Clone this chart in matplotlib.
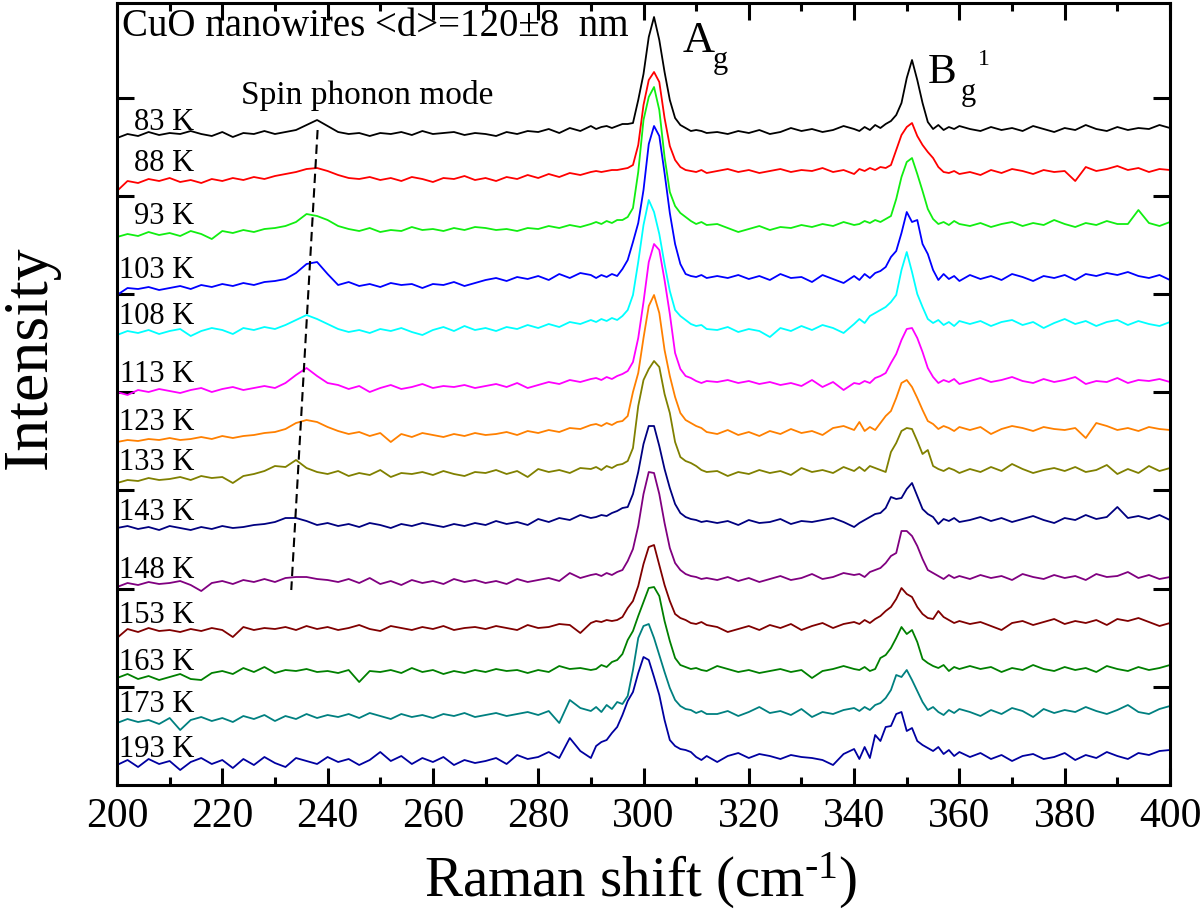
import matplotlib
matplotlib.use('Agg')
import matplotlib.pyplot as plt
import numpy as np
from matplotlib.ticker import MultipleLocator

plt.rcParams['font.family'] = ['Liberation Serif', 'DejaVu Serif']
plt.rcParams['mathtext.fontset'] = 'custom'
plt.rcParams['mathtext.rm'] = 'Liberation Serif'
plt.rcParams['mathtext.it'] = 'Liberation Serif:italic'

# ---------------- data ----------------
raman_shift = (list(range(200, 291, 2)) + list(range(291, 313)) + list(range(314, 341, 2))
               + list(range(341, 361)) + list(range(362, 401, 2)))

temperatures = ['83 K', '88 K', '93 K', '103 K', '108 K', '113 K', '123 K',
                '133 K', '143 K', '148 K', '153 K', '163 K', '173 K', '193 K']

# vertical stacking offsets of each spectrum (same units as intensities)
offsets = [657, 616, 563, 509, 463, 405, 357, 317, 267, 209, 164, 117, 75, 30]

i_83 = ([-10, -6, -8, -4, -7, -5, -6, -3, -6, -8, -4, -9, -5, -6, -3, -6, -4, -2, 3, 8,
         2, -4, -6, -5, -8, -5, -6, -4, -7, -3, -6, -5, -4, -7, -5, -6, -8, -4, -6, -3,
         -4, -1, -5, 0, -3, 2]
        + [-1, 1, 2, 0, 2, 4, 4, 5, 28, 54, 91, 111, 88, 56, 28, 10, 3, 0, -3, -2, -3, -5]
        + [-4, -6, -3, -5, -2, -6, -4, 0, -3, -1, -4, -2, 2, -1]
        + [-3, 1, -2, 3, 0, 4, 7, 13, 25, 50, 68, 48, 25, 6, -1, 3, -2, 1, -1, 2]
        + [-1, -3, 1, -2, 0, -3, 2, -1, -4, 0, -2, 3, -1, -3, 1, -2, 0, -1, 3, 0])
i_88 = ([-22, -12, -14, -10, -12, -9, -13, -11, -14, -10, -12, -9, -11, -8, -10, -7, -5, -3, 0, 1,
         -2, -6, -9, -10, -8, -11, -9, -12, -8, -10, -13, -9, -10, -7, -11, -9, -12, -8, -10, -6,
         -9, -5, -8, -4, -6, -3]
        + [-2, -3, -2, -1, -1, 0, 1, 4, 24, 64, 89, 97, 87, 51, 23, 9, 2, -1, -2, -3, -1, -4]
        + [-2, 0, -3, -1, -4, -2, 0, -3, -1, -2, 1, -3, -1, -5]
        + [0, -2, 1, -1, 2, 1, 4, 19, 34, 42, 46, 33, 24, 17, 11, 2, -3, -4, -2, -5]
        + [-3, -6, -1, -4, 0, -2, -5, -1, -3, -2, -12, 2, -2, 0, 3, -1, 1, -3, 0, -1])
i_93 = ([-15, -12, -14, -10, -13, -11, -14, -9, -12, -17, -9, -11, -8, -10, -7, -6, -4, 0, 8, 6,
         2, -4, -7, -9, -6, -10, -8, -9, -5, -8, -7, -9, -6, -8, -5, -6, -8, -7, -9, -6,
         -7, -4, -6, -3, -5, -2]
        + [0, -2, 1, -1, 2, 2, 5, 14, 50, 102, 125, 135, 112, 65, 30, 16, 9, 5, 1, -2, 0, -3]
        + [-2, -6, -10, -7, -4, -8, -5, -6, -3, -5, -2, -4, 0, -3]
        + [-2, 1, -1, 2, 0, 3, 6, 23, 45, 60, 64, 48, 31, 13, 3, -2, 0, -3, 1, -2]
        + [-4, -1, -5, -2, 0, -4, -1, -3, 2, -2, -5, -1, -3, 1, -2, -2, 12, -1, -4, 0])
i_103 = ([-19, -12, -13, -11, -14, -12, -10, -13, -9, -11, -8, -10, -7, -9, -6, -5, -3, 3, 12, 14,
          2, -9, -6, -10, -8, -11, -7, -9, -8, -12, -8, -9, -6, -10, -7, -4, -2, -5, -1, -3,
          0, -4, 2, -2, 3, 1]
         + [-2, 1, -1, 2, 0, 7, 16, 34, 53, 86, 132, 150, 140, 103, 63, 32, 12, 2, 0, -1, 1, -2]
         + [0, -2, 1, -3, 0, -4, 2, -2, -1, -6, 1, -3, -7, 0]
         + [-4, 2, -2, 3, 5, 9, 19, 25, 43, 64, 54, 56, 32, 22, 6, -4, 2, -3, 0, -5]
         + [1, -3, 0, -4, 2, -1, -5, 0, -2, 1, -4, 2, 0, 3, 1, 4, 0, -2, 1, -4])
i_108 = ([-13, -9, -11, -8, -12, -9, -7, -14, -9, -6, -8, -12, -6, -8, -5, -7, -3, 2, 7, 3,
          -2, -7, -10, -8, -11, -7, -9, -6, -10, -13, -8, -5, -9, -4, -8, -6, -9, -5, -7, -3,
          -6, -2, -5, 0, -2, 2]
         + [0, 3, 1, 4, 2, 6, 12, 27, 60, 97, 122, 110, 88, 58, 31, 12, 6, 2, -2, -4, -3, -7]
         + [-8, -5, -10, -7, -9, -15, -6, -9, -4, -8, -3, -6, -11, -2]
         + [3, -1, 6, 9, 12, 15, 20, 27, 52, 70, 50, 28, 15, 3, -1, 2, -3, 0, -4, 1]
         + [-2, 1, -4, 0, 2, -3, 0, -6, -1, 3, -2, 1, -4, 0, 2, -3, 1, -2, -4, 0])
i_113 = ([-12, -15, -10, -12, -9, -11, -13, -10, -8, -12, -9, -7, -10, -8, -6, -8, -3, 5, 12, 4,
          -3, -5, -9, -6, -12, -8, -5, -9, -7, -4, -8, -6, -7, -5, -8, -6, -4, -7, -3, -8,
          -5, -2, -4, 0, -2, 1]
         + [2, 0, 3, 1, 4, 6, 9, 18, 42, 78, 118, 136, 130, 100, 66, 27, 11, 4, 2, -1, -3, -1]
         + [-2, 0, -3, -1, -4, -2, -5, -3, -6, 0, -7, -2, -10, -3]
         + [-4, -1, -3, 2, 4, 7, 17, 26, 40, 51, 52, 42, 28, 12, 3, -3, 0, -2, 1, -4]
         + [-1, 2, -2, 0, 3, -1, -3, 1, -2, 0, 3, -4, -1, -2, 2, -3, 0, -1, 1, -2])
i_123 = ([-14, -12, -13, -11, -12, -10, -12, -11, -9, -11, -8, -10, -8, -7, -5, -4, -1, 5, 8, 6,
          1, -3, -6, -4, -8, -5, -14, -6, -9, -5, -7, -9, -6, -8, -5, -7, -6, -4, -7, -3,
          -5, -2, -4, 0, -1, 3]
         + [4, 2, 5, 3, 6, 7, 12, 36, 55, 90, 122, 133, 115, 78, 52, 31, 15, 8, 5, 2, 0, -4]
         + [-6, -2, -7, -4, -8, -3, -6, -1, -5, -3, -7, 0, 2, -2]
         + [6, -3, 1, -2, 5, 12, 17, 30, 45, 48, 41, 30, 18, 7, 4, -1, 2, 0, -3, 1]
         + [-2, 1, -6, -1, 2, 0, -3, 1, -1, -2, 0, -10, 5, 2, -2, 0, -3, 1, -1, -2])
i_133 = ([-15, -12, -13, -10, -12, -11, -9, -12, -8, -10, -9, -15, -8, -6, -3, 2, 1, 8, 0, -4,
          -6, -3, -8, -5, -7, -2, -9, -5, -6, -4, -7, -3, -6, -8, -4, -5, -2, -6, -3, -9,
          -1, -4, -2, -5, 0, -1]
         + [1, -2, 2, 0, 3, 4, 7, 20, 62, 88, 99, 107, 101, 74, 55, 26, 11, 7, 5, 2, -2, -4]
         + [-3, -8, -4, -6, -2, -5, -3, -7, 0, -4, -2, -5, 1, -3]
         + [1, -3, 2, 0, -2, -4, 16, 25, 37, 40, 39, 27, 14, 18, 2, -1, -3, 0, -2, -5]
         + [-1, -4, 1, -3, 4, -1, -5, -2, 0, -3, 1, -4, -2, 3, -6, -1, -5, 2, -3, 0])
i_143 = ([-10, -8, -11, -9, -12, -8, -10, -12, -9, -11, -8, -10, -9, -7, -6, -4, 0, 0, -3, -7,
          -5, -8, -6, -9, -5, -7, -10, -6, -8, -5, -7, -9, -6, -8, -5, -7, -3, -6, -4, -7,
          -1, -4, 0, -2, 3, 0]
         + [1, 3, 2, 5, 7, 10, 11, 24, 46, 74, 92, 92, 72, 49, 30, 14, 5, 1, -1, -2, -4, -3]
         + [-5, -3, -7, -2, -5, -4, -1, -6, -3, -4, -2, 0, -4, -9]
         + [-5, -2, 1, 4, 5, 10, 21, 19, 20, 29, 35, 22, 9, 4, 1, -6, -1, -3, 0, -4]
         + [-2, 1, -3, 0, -4, -1, 2, -2, -5, 0, -2, 3, -1, 1, 11, 0, 2, -1, 3, -2])
i_148 = ([-11, -7, -9, -6, -8, -7, -5, -9, -15, -7, -5, -8, -4, -6, -3, -6, -2, -1, -1, -3,
          -4, -6, -3, -7, -2, -8, -5, -9, -4, -7, -5, -8, -3, -6, -4, -7, -5, -8, -3, -6,
          -4, -2, -5, 3, -2, 1]
         + [2, 0, 3, 1, 4, 6, 15, 27, 50, 82, 104, 103, 82, 53, 28, 13, 6, 2, 0, -1, -3, -2]
         + [-4, -1, -5, -2, -6, -3, 0, -4, -2, 2, -3, -1, 3, 1]
         + [2, -1, 4, 6, 8, 13, 20, 23, 45, 45, 40, 30, 17, 6, 3, 0, -3, 1, -2, 0]
         + [-3, 1, -2, 0, -4, 2, -1, -3, 1, -2, 0, -4, 2, -1, 0, 4, -2, 1, -3, -1])
i_153 = ([-17, -8, -11, -7, -10, -9, -11, -8, -10, -7, -9, -16, -6, -9, -7, -8, -6, -9, -5, -8,
          -6, -9, -7, -4, -8, -10, -5, -7, -9, -6, -8, -5, -9, -7, -6, -8, -5, -7, -9, -4,
          -7, -6, -3, -4, -12, -2]
         + [0, -1, 1, 0, 1, 4, 13, 20, 35, 57, 74, 76, 56, 36, 20, 7, 3, 1, -2, -3, -1, -4]
         + [-6, -11, -8, -5, -9, -4, -7, -3, -9, -5, -2, -7, -3, -1]
         + [-3, 1, -2, 2, 5, 10, 14, 22, 33, 27, 24, 14, 7, 3, 2, 10, 4, 1, -2, 0]
         + [-3, -1, -5, -9, -2, 0, -4, -1, 2, -3, 0, -2, 1, -4, 2, 0, 3, -1, -5, -2])
i_163 = ([-10, -6, -11, -8, -12, -9, -6, -11, -12, -5, -3, -6, 0, -4, 1, -5, -2, -3, -1, -4,
          -3, -5, -2, -14, -3, -4, -2, -5, 0, -4, -2, -6, -3, -5, -2, -4, -1, -3, -2, -5,
          -2, -4, 2, -1, 0, -2]
         + [-1, 3, 1, 6, 8, 14, 28, 37, 52, 66, 80, 81, 72, 47, 27, 10, 3, 1, -1, 0, -2, -3]
         + [2, -1, -4, -2, -5, -3, -1, -4, -2, -10, -3, -1, 2, -1]
         + [-2, 1, -3, -1, 10, 13, 20, 30, 41, 34, 38, 26, 9, 5, 2, 0, 3, -3, 1, -1]
         + [2, -1, 1, -4, 0, -2, 3, -1, -3, 1, -2, 0, -4, 2, -1, -3, 1, -2, 0, 3])
i_173 = ([-13, -9, -12, -10, -14, -8, -20, -10, -7, -11, -8, -12, -6, -9, -5, -11, -6, -9, -4, -8,
          -5, -7, -4, -8, -3, -6, -9, -4, -7, -5, -8, -4, -6, -3, -7, -5, -3, -6, -4, -2,
          -5, -1, -13, 10, 2, -1]
         + [3, -2, 5, 1, 8, 6, 14, 40, 72, 84, 86, 72, 55, 38, 22, 10, 4, 1, 0, -3, -1, -4]
         + [-4, -1, -6, -2, 3, -3, -1, -5, 1, -7, -2, -4, 0, 2]
         + [-1, 3, 0, 5, 7, 12, 20, 35, 33, 40, 30, 19, 8, 0, 3, -2, -5, 0, -3, 1]
         + [-2, -6, 0, -4, 2, -1, -7, 1, -3, 0, -2, 3, -1, -4, 0, 5, -2, -4, 1, 4])
i_193 = ([-10, -5, -12, -4, -9, -6, -15, -7, -3, -9, -5, -13, -4, -10, -2, -8, -12, -3, -6, -9,
          -2, -7, -4, -10, -5, 3, -6, -1, -9, -3, -7, -2, -10, -5, -8, -6, -3, -9, 0, -4,
          -2, 3, -3, 17, 4, -3]
         + [9, 13, 15, 22, 28, 40, 54, 63, 82, 98, 95, 78, 60, 35, 15, 9, 6, 5, 3, -2, -5, -1]
         + [-7, -1, 2, -3, 1, -1, -4, 0, -2, -3, -5, -10, 1, 6]
         + [-4, 8, -3, 20, 14, 28, 29, 41, 43, 24, 27, 14, 10, 7, 4, 8, 1, 5, -1, 3]
         + [-2, 2, -4, 0, -6, -1, 1, -4, -2, 2, -5, 0, -3, 3, -1, -4, 2, 0, 4, 5])

spectra = [i_83, i_88, i_93, i_103, i_108, i_113, i_123, i_133, i_143, i_148,
           i_153, i_163, i_173, i_193]

# guide line through the spin-phonon mode (Raman shift, height)
spin_line_x = [238.1, 233.1]
spin_line_y = [655, 195]

colors = ['#000000', '#FF0000', '#11EE11', '#0000FF', '#00FFFF', '#FF00FF', '#FF8000',
          '#808000', '#000080', '#800080', '#800000', '#008000', '#008080', '#0000A0']

# ---------------- figure ----------------
fig = plt.figure(figsize=(12, 9.11), dpi=100)
ax = fig.add_axes([0.0975, 0.1383, 0.8775, 0.8584])

x = np.array(raman_shift, dtype=float)
for vals, off, col, lab in zip(spectra, offsets, colors, temperatures):
    assert len(vals) == len(x), (lab, len(vals))
    ax.plot(x, off + np.array(vals, dtype=float), color=col, lw=1.3)
    ax.text(214.7, off - 2, lab, ha='right', va='baseline', fontsize=22)

ax.plot(spin_line_x, spin_line_y, color='black', lw=1.5, ls=(0, (4.5, 2.5)))

ax.set_xlim(200, 400)
ax.set_ylim(0, 782)
ax.xaxis.set_major_locator(MultipleLocator(20))
ax.xaxis.set_minor_locator(MultipleLocator(10))
ax.set_yticks(np.arange(1, 8) * 98.2)
ax.tick_params(axis='both', which='both', direction='in', top=True, right=True, width=2.2)
ax.tick_params(which='major', length=12)
ax.tick_params(which='minor', length=6)
ax.tick_params(axis='x', labelsize=30, pad=9)
ax.tick_params(axis='y', labelleft=False)
for s in ax.spines.values():
    s.set_linewidth(2.2)

ax.text(201.0, 749, 'CuO nanowires <d>=120\u00b18  nm', fontsize=28, va='baseline')
ax.text(223.5, 681, 'Spin phonon mode', fontsize=24, va='baseline')
ax.text(307.5, 733, 'A', fontsize=32, va='baseline')
ax.text(313.2, 717, 'g', fontsize=22, va='baseline')
ax.text(354.0, 702, 'B', fontsize=31, va='baseline')
ax.text(360.3, 685, 'g', fontsize=22, va='baseline')
ax.text(363.5, 720, '1', fontsize=17, va='baseline')

fig.text(641 / 1200, 1 - 897 / 911, 'Raman shift (cm$^{\\mathregular{\u2010}1}$)',
         ha='center', va='baseline', fontsize=41)
fig.text(31 / 1200, 1 - 357 / 911, 'Intensity', rotation=90, ha='center', va='center',
         fontsize=46)

fig.savefig('out.png', dpi=100)
